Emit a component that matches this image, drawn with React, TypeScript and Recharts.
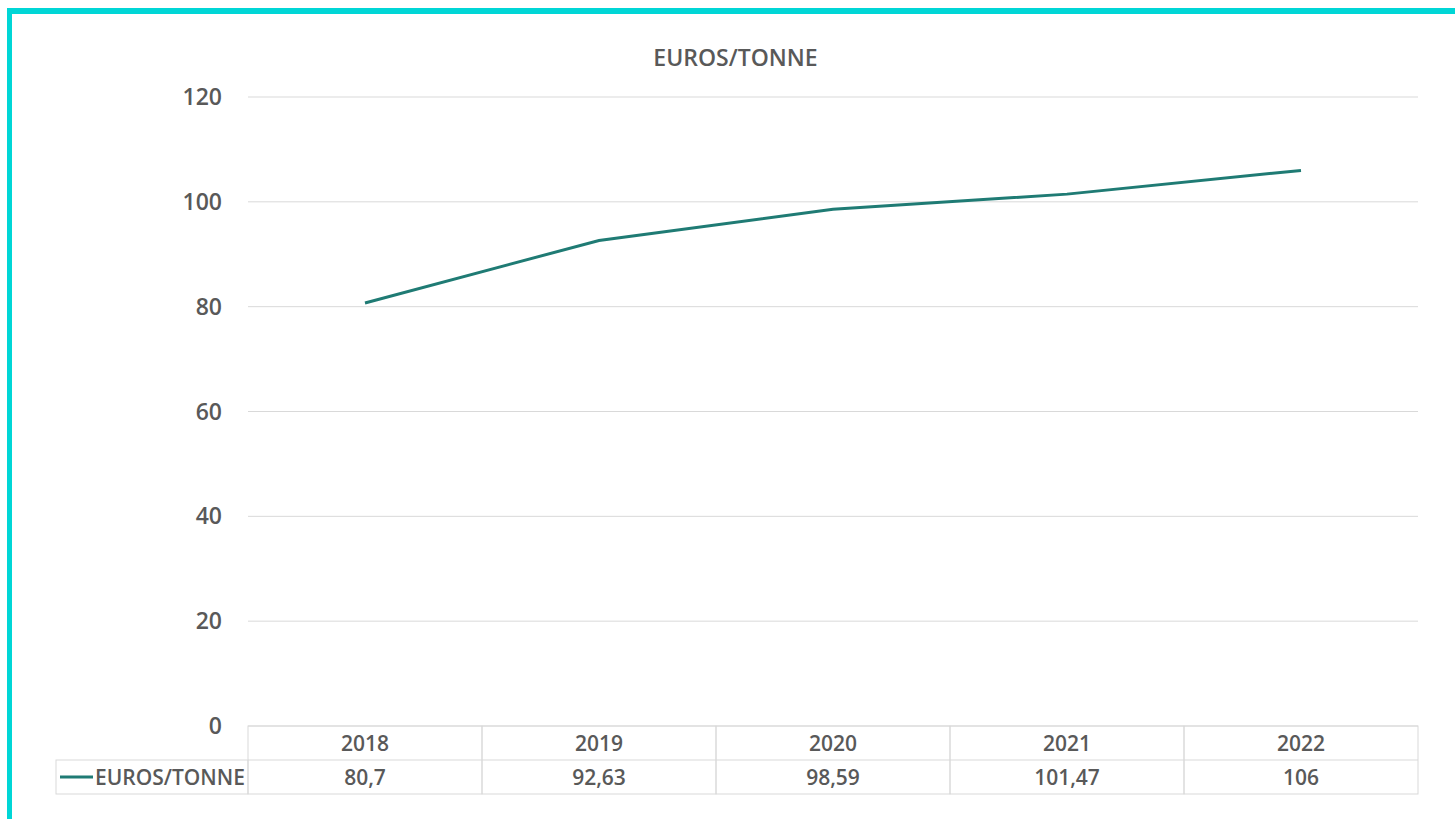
import React from "react";
import { LineChart, Line, XAxis, YAxis, CartesianGrid } from "recharts";

const years = ["2018", "2019", "2020", "2021", "2022"];
const eurosPerTonne = [80.7, 92.63, 98.59, 101.47, 106];
const yTicks = [0, 20, 40, 60, 80, 100, 120];
const seriesName = "EUROS/TONNE";

const data = years.map((year, i) => ({ year, value: eurosPerTonne[i] }));

const W = 1455;
const H = 819;
const PLOT_LEFT = 248;
const PLOT_RIGHT = 1418;
const BAND = (PLOT_RIGHT - PLOT_LEFT) / years.length;
const ROW = 34;
const LEGEND_LEFT = 56;
const TEXT = "#595959";
const BORDER = "#d9d9d9";
const LINE = "#1f7b74";
const FONT = "'Open Sans', sans-serif";

const fmt = (v: number) => String(v).replace(".", ",");

function TableTick(props: any) {
  const { x, y, payload } = props;
  const i = payload.index;
  const left = x - BAND / 2;
  const top = y;
  return (
    <g fontFamily={FONT} fontWeight={600} fontSize={21} fill={TEXT}>
      <rect x={left} y={top} width={BAND} height={ROW * 2} fill="none" stroke={BORDER} />
      <line x1={left} x2={left + BAND} y1={top + ROW} y2={top + ROW} stroke={BORDER} />
      <text x={x} y={top + ROW / 2} textAnchor="middle" dominantBaseline="central">
        {years[i]}
      </text>
      <text x={x} y={top + ROW * 1.5} textAnchor="middle" dominantBaseline="central">
        {fmt(eurosPerTonne[i])}
      </text>
      {i === 0 && (
        <g>
          <rect x={LEGEND_LEFT} y={top + ROW} width={left - LEGEND_LEFT} height={ROW} fill="none" stroke={BORDER} />
          <line x1={LEGEND_LEFT + 4} x2={LEGEND_LEFT + 37} y1={top + ROW * 1.5} y2={top + ROW * 1.5} stroke={LINE} strokeWidth={3} />
          <text x={left - 3} y={top + ROW * 1.5} textAnchor="end" dominantBaseline="central">
            {seriesName}
          </text>
        </g>
      )}
    </g>
  );
}

export default function App() {
  return (
    <div style={{ position: "absolute", left: 0, top: 0, width: W, height: H, background: "#fff", overflow: "hidden" }}>
      <div
        style={{
          position: "absolute",
          left: 7,
          top: 8,
          width: W,
          height: H,
          borderLeft: "5px solid #00d6d6",
          borderTop: "6px solid #00d6d6",
        }}
      />
      <div
        style={{
          position: "absolute",
          left: 0,
          width: W,
          top: 41,
          textAlign: "center",
          fontFamily: FONT,
          fontWeight: 600,
          fontSize: 23,
          color: TEXT,
          paddingLeft: 8,
        }}
      >
        {seriesName}
      </div>
      <div style={{ position: "absolute", left: 0, top: 0 }}>
        <LineChart width={W} height={H} data={data} margin={{ top: 97, right: W - PLOT_RIGHT, bottom: 23, left: 0 }}>
          <CartesianGrid vertical={false} stroke={BORDER} />
          <XAxis
            dataKey="year"
            axisLine={false}
            tickLine={false}
            tickSize={0}
            tickMargin={0}
            height={70}
            interval={0}
            padding={{ left: BAND / 2, right: BAND / 2 }}
            tick={<TableTick />}
          />
          <YAxis
            domain={[0, 120]}
            ticks={yTicks}
            width={PLOT_LEFT}
            axisLine={false}
            tickLine={false}
            tickSize={0}
            tickMargin={26}
            tick={{ fill: TEXT, fontFamily: FONT, fontWeight: 600, fontSize: 23 }}
          />
          <Line
            type="linear"
            dataKey="value"
            stroke={LINE}
            strokeWidth={3}
            dot={false}
            isAnimationActive={false}
          />
        </LineChart>
      </div>
    </div>
  );
}
